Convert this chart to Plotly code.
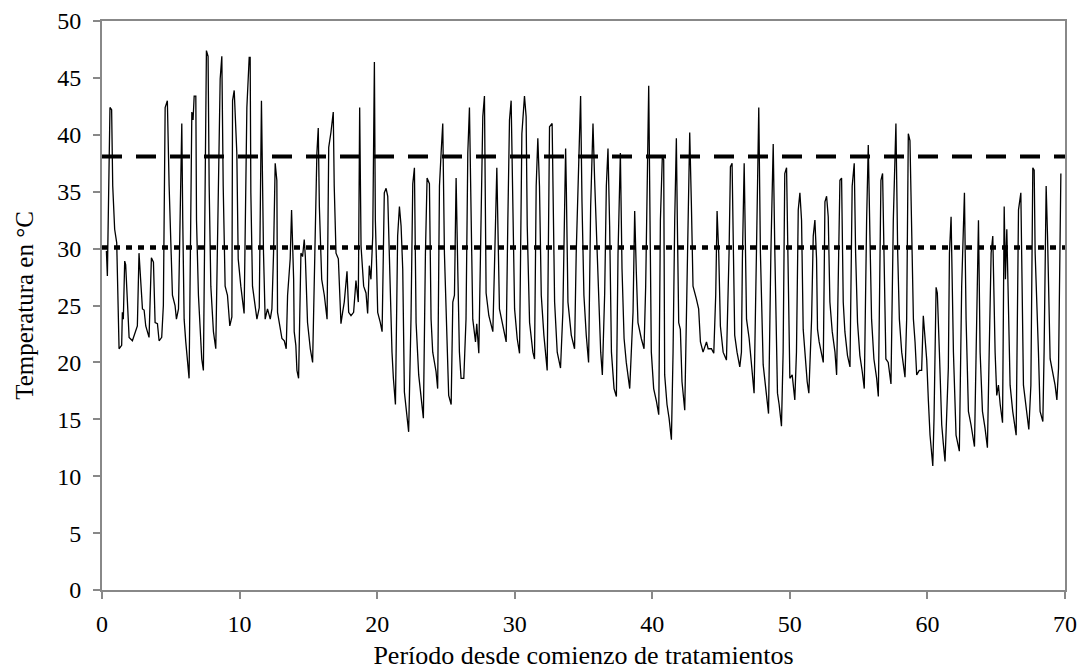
import plotly.graph_objects as go

# Days since start of treatments and temperature (°C)
days = [
    0.32, 0.39, 0.58, 0.70, 0.78, 0.92, 1.07, 1.19, 1.24, 1.43, 1.48, 1.55, 1.65, 1.72, 1.84, 1.97,
    2.21, 2.40, 2.57, 2.69, 2.81, 2.94, 3.06, 3.18, 3.42, 3.59, 3.74, 3.86, 4.03, 4.15, 4.34, 4.46,
    4.59, 4.75, 4.88, 5.00, 5.12, 5.31, 5.41, 5.56, 5.65, 5.80, 5.87, 5.97, 6.09, 6.21, 6.33, 6.45,
    6.53, 6.62, 6.70, 6.82, 6.87, 7.01, 7.13, 7.25, 7.37, 7.50, 7.59, 7.71, 7.79, 7.91, 8.10, 8.27,
    8.47, 8.59, 8.71, 8.81, 8.95, 9.12, 9.29, 9.44, 9.49, 9.61,
    9.80, 9.90, 10.09, 10.33, 10.53, 10.70, 10.77, 10.82, 10.94, 11.06, 11.26, 11.43, 11.59, 11.74,
    11.86, 12.03, 12.23, 12.35, 12.47, 12.59, 12.71, 12.76, 12.96, 13.08, 13.25, 13.39, 13.49, 13.68,
    13.78, 13.93, 13.97, 14.09, 14.17, 14.29, 14.46, 14.58, 14.70, 14.78, 14.94, 15.14, 15.31, 15.48,
    15.62, 15.72, 15.80, 15.97, 16.16, 16.36, 16.48, 16.64, 16.81, 16.88, 17.01, 17.18, 17.37, 17.49,
    17.61, 17.81, 17.93, 18.10, 18.29, 18.46, 18.63, 18.73, 18.83, 19.02, 19.19, 19.31, 19.43, 19.55,
    19.68, 19.80, 19.87, 19.97, 20.04, 20.23, 20.36, 20.52, 20.65, 20.77, 20.84, 20.94, 21.08, 21.18,
    21.33, 21.49, 21.62, 21.74, 21.86, 21.98, 22.15, 22.29, 22.46, 22.59, 22.71, 22.83, 23.02, 23.19,
    23.36, 23.51, 23.63, 23.80, 23.92, 24.04, 24.28, 24.40, 24.53, 24.65, 24.77, 24.89, 25.06, 25.20,
    25.38, 25.50, 25.62, 25.74, 25.86, 25.98, 26.10, 26.30, 26.46, 26.59, 26.71, 26.83, 26.95, 27.15,
    27.24, 27.39, 27.51, 27.68, 27.80, 27.92, 28.12, 28.24, 28.41, 28.53, 28.70, 28.89, 29.09, 29.26,
    29.38,
    29.50, 29.62, 29.74, 29.86, 29.99, 30.18, 30.35, 30.52, 30.71, 30.83, 30.91, 31.08, 31.32, 31.44,
    31.56, 31.68, 31.80, 31.93, 32.12, 32.36, 32.53, 32.72, 32.90, 33.09, 33.33, 33.50, 33.70, 33.75,
    33.87, 34.11, 34.35, 34.47, 34.64, 34.79, 34.89, 35.03, 35.20, 35.37, 35.52, 35.69, 35.81, 36.00,
    36.25, 36.37, 36.54, 36.66, 36.78, 36.90, 37.03, 37.22, 37.39, 37.51, 37.68, 37.80, 37.95, 38.11,
    38.36, 38.60, 38.72, 38.84, 38.96, 39.20, 39.40,
    39.52, 39.64, 39.74, 39.93, 40.10, 40.30, 40.47, 40.59, 40.73, 40.83, 40.90, 41.07, 41.22, 41.39,
    41.51, 41.63, 41.75, 41.82, 41.92, 42.04, 42.16, 42.36, 42.48, 42.72, 42.84, 42.96, 43.20, 43.37,
    43.50, 43.69, 43.94, 44.06, 44.30, 44.47, 44.61, 44.71, 44.83, 44.95, 45.15, 45.39, 45.58, 45.68,
    45.80, 45.87, 45.99, 46.16, 46.36, 46.48, 46.55, 46.68, 46.85, 47.04, 47.21, 47.40, 47.57, 47.74,
    47.86, 48.06, 48.25, 48.45, 48.62, 48.79, 48.91, 49.03,
    49.10, 49.22, 49.39, 49.51, 49.63, 49.76, 49.88, 50.00, 50.17, 50.36, 50.48, 50.61, 50.73, 50.85,
    50.97, 51.14, 51.26, 51.38, 51.58, 51.70, 51.82, 51.94, 52.01, 52.13, 52.30, 52.43, 52.55, 52.67,
    52.79, 52.91, 53.08, 53.28, 53.40, 53.52, 53.64, 53.76, 53.88, 54.00, 54.19, 54.37, 54.53, 54.68,
    54.78, 54.92, 55.09, 55.26, 55.41, 55.58, 55.70, 55.82, 55.94, 56.11, 56.31, 56.43, 56.62, 56.74,
    56.86, 56.98, 57.15, 57.35, 57.52, 57.71, 57.84, 57.96, 58.13, 58.37, 58.49, 58.61, 58.73,
    58.85, 58.98, 59.10, 59.22, 59.41, 59.58, 59.70, 59.82, 59.95, 60.07, 60.19, 60.39, 60.48, 60.63,
    60.72, 60.87, 61.04, 61.16, 61.28, 61.52, 61.60, 61.72, 61.89, 62.08, 62.32, 62.49, 62.69, 62.81,
    62.98, 63.17, 63.42, 63.54, 63.71, 63.83, 64.00, 64.19, 64.36, 64.48, 64.63, 64.75, 64.80, 64.92,
    65.04, 65.16, 65.29, 65.46, 65.58, 65.67, 65.77, 65.89, 66.01, 66.20, 66.45, 66.62, 66.79, 66.98,
    67.18, 67.37, 67.52, 67.66, 67.76, 67.83, 68.07, 68.19, 68.39, 68.48, 68.63, 68.73, 68.92, 69.16,
    69.28, 69.41, 69.53, 69.70,
]
temps = [
    29.8, 27.6, 42.4, 42.2, 35.5, 31.7, 30.5, 23.0, 21.2, 21.5, 24.4, 23.8, 28.9, 28.6, 24.7, 22.2,
    21.9, 22.7, 23.2, 29.6, 27.3, 24.7, 24.6, 23.2, 22.2, 29.2, 28.8, 23.5, 23.4, 21.9, 22.2, 25.0,
    42.4, 43.0, 35.5, 29.6, 25.9, 25.0, 23.8, 24.7, 30.0, 41.0, 32.5, 23.8, 21.8, 20.0, 18.6, 32.5,
    42.0, 41.3, 43.4, 43.4, 32.5, 25.9, 22.7, 20.3, 19.3, 40.7, 47.4, 46.9, 35.5, 26.7, 22.7, 21.2,
    38.4, 44.9, 46.9, 35.5, 26.7, 25.9, 23.2, 24.0, 43.0, 43.9,
    38.4, 29.1, 26.7, 24.3, 42.4, 46.8, 46.8, 34.9, 26.7, 25.6, 23.8, 24.8, 43.0, 29.6,
    23.8, 24.7, 23.8, 24.7, 29.6, 37.5, 36.0, 24.4, 22.9, 22.1, 21.9, 21.2, 25.9, 29.1,
    33.4, 27.3, 22.7, 21.5, 19.3, 18.6, 29.6, 29.3, 30.8, 29.3, 23.5, 21.2, 20.0, 29.6,
    38.4, 40.6, 33.7, 27.3, 25.9, 23.8, 38.9, 40.2, 42.0, 35.5, 29.6, 29.1, 23.4, 24.4,
    25.3, 28.0, 24.4, 24.1, 24.4, 27.2, 25.3, 42.4, 30.2, 26.7, 26.1, 24.3, 28.5, 27.3,
    31.1, 46.4, 32.5, 28.0, 24.4, 23.5, 22.7, 34.9, 35.3, 34.6, 31.4, 25.0, 20.9, 18.6,
    16.3, 31.1, 33.7, 32.0, 28.2, 17.4, 15.7, 13.9, 23.8, 35.7, 37.1, 23.5, 18.9, 17.1,
    15.1, 29.6, 36.2, 35.7, 23.8, 20.9, 19.2, 17.7, 35.5, 38.4, 41.0, 29.6, 21.8, 17.1,
    16.3, 25.3, 25.9, 36.2, 28.2, 20.9, 18.6, 18.6, 23.8, 38.4, 42.4, 32.4, 23.8, 21.8,
    23.4, 20.8, 29.6, 41.6, 43.4, 26.1, 24.1, 23.5, 22.7, 28.5, 37.1, 24.7, 23.5, 22.7,
    21.8,
    32.5, 41.3, 43.0, 32.8, 24.7, 22.1, 20.8, 40.1, 43.4, 41.6, 32.0, 23.5, 20.9, 20.3,
    35.5, 39.7, 35.5, 25.9, 22.4, 19.3, 40.7, 41.0, 25.3, 20.9, 19.5, 24.4, 38.8, 35.5,
    25.3, 22.4, 21.2, 29.6, 38.4, 43.4, 34.1, 25.9, 22.4, 20.0, 33.7, 41.0, 36.0, 29.6,
    20.9, 18.9, 26.1, 35.5, 38.8, 32.0, 20.9, 17.7, 17.0, 29.6, 38.4, 28.2, 22.1, 20.0,
    17.7, 24.4, 33.3, 27.9, 23.5, 22.1, 21.2,
    26.7, 35.5, 44.3, 20.9, 17.7, 16.6, 15.4, 32.5, 38.1, 37.8, 18.9, 16.3, 15.1, 13.2,
    20.9, 32.5, 39.7, 32.5, 23.5, 22.9, 18.3, 15.8, 23.8, 40.2, 34.0, 26.7, 25.6, 24.7,
    21.8, 20.9, 21.8, 21.2, 21.2, 20.8, 25.9, 33.3, 29.6, 23.2, 20.9, 20.2, 29.6, 37.2,
    37.5, 32.0, 22.4, 20.9, 19.6, 20.9, 29.1, 37.5, 23.8, 22.1, 19.8, 17.3, 29.6, 42.4,
    29.6, 19.8, 17.7, 15.5, 29.6, 39.2, 29.6, 20.9,
    17.3, 16.3, 14.4, 20.9, 36.6, 37.1, 26.7, 18.6, 18.9, 16.7, 20.9, 33.4, 34.9, 32.5,
    22.9, 19.8, 18.3, 17.3, 23.8, 31.1, 32.5, 29.1, 22.9, 21.8, 20.9, 20.0, 34.1, 34.6,
    32.8, 25.3, 22.7, 20.9, 18.9, 26.7, 36.0, 36.2, 25.3, 22.7, 20.6, 19.6, 35.5, 37.5,
    29.6, 23.5, 20.6, 19.2, 17.7, 32.5, 39.1, 31.2, 23.8, 20.3, 18.6, 17.0, 36.0, 36.6,
    26.7, 20.3, 20.0, 18.1, 32.5, 41.0, 29.6, 23.8, 20.9, 18.7, 23.8, 40.1, 39.5,
    32.5, 23.8, 21.8, 18.9, 19.3, 19.3, 24.1, 22.2, 20.2, 16.6, 13.6, 10.9, 15.1, 26.6,
    26.1, 20.9, 14.5, 12.8, 11.3, 19.5, 29.6, 32.8, 20.9, 13.6, 12.2, 26.7, 34.9, 23.8,
    15.7, 14.5, 12.6, 20.9, 32.5, 20.9, 15.7, 14.2, 12.5, 20.3, 29.6, 31.1, 27.3, 20.9,
    17.1, 18.0, 16.3, 14.7, 33.7, 27.3, 31.7, 25.3, 18.0, 15.7, 13.6, 33.4, 34.9, 18.0,
    15.7, 14.1, 18.0, 37.1, 36.9, 29.6, 20.9, 15.7, 14.8, 20.9, 35.5, 31.1, 20.3, 18.9,
    18.0, 16.7, 19.5, 36.6,
]

# Reference thresholds
ref_x = [0, 70]
upper_ref = [38.1, 38.1]
lower_ref = [30.1, 30.1]

x_ticks = [0, 10, 20, 30, 40, 50, 60, 70]
y_ticks = [0, 5, 10, 15, 20, 25, 30, 35, 40, 45, 50]

FONT = "Liberation Serif, Times New Roman, serif"

fig = go.Figure()
fig.add_trace(go.Scatter(x=days, y=temps, mode="lines",
                         line=dict(color="black", width=1.3), showlegend=False))
fig.add_trace(go.Scatter(x=ref_x, y=upper_ref, mode="lines",
                         line=dict(color="black", width=4, dash="20px,14px"), showlegend=False))
fig.add_trace(go.Scatter(x=ref_x, y=lower_ref, mode="lines",
                         line=dict(color="black", width=4.5, dash="6px,6px"), showlegend=False))

axis_common = dict(showgrid=False, zeroline=False, showline=True, linecolor="#888888",
                   linewidth=2, mirror=True, ticks="outside", ticklen=7, tickwidth=1.5,
                   tickcolor="#888888", automargin=False,
                   tickfont=dict(family=FONT, size=24, color="black"))

fig.update_layout(
    width=1085, height=670,
    margin=dict(l=102, r=20, t=21, b=80),
    paper_bgcolor="white", plot_bgcolor="white",
    font=dict(family=FONT, size=24, color="black"),
    xaxis=dict(range=[0, 70], tickvals=x_ticks, ticklabelstandoff=4,
               title=dict(text="Período desde comienzo de tratamientos",
                          font=dict(family=FONT, size=26), standoff=14),
               **axis_common),
    yaxis=dict(range=[0, 50], tickvals=y_ticks, ticklabelstandoff=7,
               title=dict(text="Temperatura en °C",
                          font=dict(family=FONT, size=25), standoff=16),
               **axis_common),
)

fig.write_html("out.html")
